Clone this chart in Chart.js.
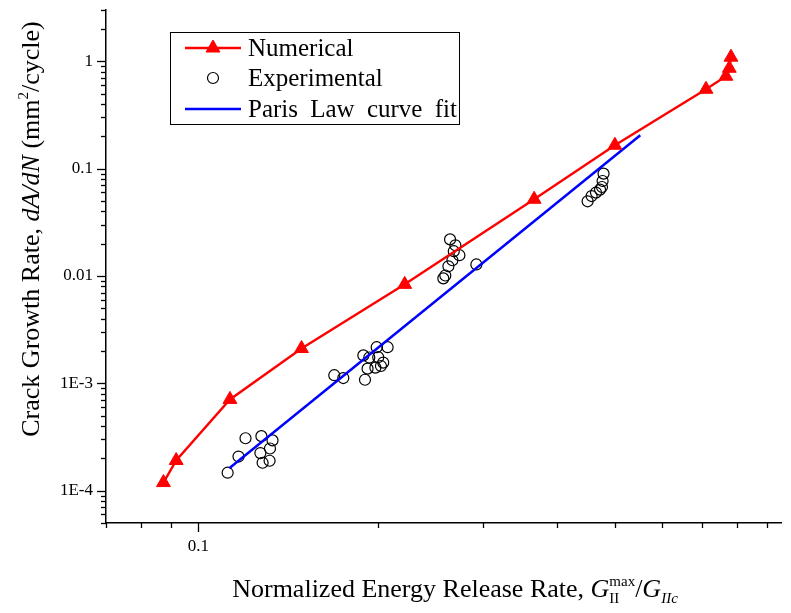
<!DOCTYPE html>
<html>
<head>
<meta charset="utf-8">
<script src="https://cdn.jsdelivr.net/npm/chart.js@4/dist/chart.umd.min.js"></script>
<style>
  html, body { margin: 0; padding: 0; background: #fff; }
  #wrap { width: 791px; height: 613px; }
</style>
</head>
<body>
<div id="wrap"><canvas id="crackChart" width="791" height="613"></canvas></div>
<script>
// datos
var xNumerical = [0.0874, 0.0918, 0.113, 0.149, 0.222, 0.366, 0.500, 0.711, 0.768, 0.778, 0.783];
var yNumerical = [1.19e-4, 1.91e-4, 7.08e-4, 2.11e-3, 8.35e-3, 0.0518, 0.165, 0.548, 0.725, 0.86, 1.09];

var xExperimental = [0.112, 0.1168, 0.120, 0.1276, 0.1332, 0.1319, 0.1271, 0.1282, 0.1317,
    0.1691, 0.1751, 0.1904, 0.1892, 0.1936, 0.1992, 0.2078, 0.2004, 0.2043, 0.1923, 0.1982, 0.2025,
    0.2645, 0.270, 0.2683, 0.2742, 0.2669, 0.2628, 0.2597, 0.2577, 0.2928,
    0.4786, 0.4768, 0.4757, 0.4721, 0.4648, 0.457, 0.450];
var yExperimental = [1.47e-4, 2.08e-4, 3.08e-4, 3.22e-4, 2.94e-4, 2.47e-4, 2.24e-4, 1.82e-4, 1.90e-4,
    1.19e-3, 1.12e-3, 1.08e-3, 1.82e-3, 1.74e-3, 2.17e-3, 2.17e-3, 1.75e-3, 1.56e-3, 1.37e-3, 1.40e-3, 1.45e-3,
    0.0219, 0.0193, 0.0170, 0.0156, 0.0140, 0.0123, 0.0101, 0.0095, 0.0128,
    0.0898, 0.0766, 0.0674, 0.0637, 0.0598, 0.0555, 0.0496];

var xParis = [0.1127, 0.5516];
var yParis = [1.62e-4, 0.204];

var xTickValues = [0.07, 0.08, 0.09, 0.1, 0.2, 0.3, 0.4, 0.5, 0.6, 0.7, 0.8, 0.9];
var xTickLabels = {0.1: '0.1'};
var yTickValues = [5e-5, 6e-5, 7e-5, 8e-5, 9e-5,
    1e-4, 2e-4, 3e-4, 4e-4, 5e-4, 6e-4, 7e-4, 8e-4, 9e-4,
    1e-3, 2e-3, 3e-3, 4e-3, 5e-3, 6e-3, 7e-3, 8e-3, 9e-3,
    0.01, 0.02, 0.03, 0.04, 0.05, 0.06, 0.07, 0.08, 0.09,
    0.1, 0.2, 0.3, 0.4, 0.5, 0.6, 0.7, 0.8, 0.9,
    1, 2, 3];
var yTickLabels = {1e-4: '1E-4', 1e-3: '1E-3', 0.01: '0.01', 0.1: '0.1', 1: '1'};

function puntos(xs, ys) {
    return xs.map(function (x, i) { return {x: x, y: ys[i]}; });
}

var serif = "'Liberation Serif', 'Times New Roman', serif";

// marcas de los ejes: largas en las decadas, cortas en el resto
var tickPlugin = {
    id: 'ticks',
    afterDraw: function (chart) {
        var ctx = chart.ctx, area = chart.chartArea;
        ctx.save();
        ctx.strokeStyle = '#000';
        ctx.lineWidth = 1.3;
        var xs = chart.scales.x;
        xs.ticks.forEach(function (t) {
            var px = Math.round(xs.getPixelForValue(t.value)) + 0.5;
            var len = xTickLabels[t.value] ? 9 : 5;
            ctx.beginPath();
            ctx.moveTo(px, area.bottom);
            ctx.lineTo(px, area.bottom + len);
            ctx.stroke();
        });
        var ys = chart.scales.y;
        ys.ticks.forEach(function (t) {
            var py = Math.round(ys.getPixelForValue(t.value)) + 0.5;
            var len = yTickLabels[t.value] ? 9 : 5;
            ctx.beginPath();
            ctx.moveTo(area.left - len, py);
            ctx.lineTo(area.left, py);
            ctx.stroke();
        });
        ctx.restore();
    }
};

// escribe una serie de trozos de texto con distintas fuentes
function trozos(ctx, partes, x, y) {
    var total = 0;
    partes.forEach(function (p) { ctx.font = p.font; if (!p.noAdvance) total += ctx.measureText(p.t).width; });
    var cx = x - total / 2;
    partes.forEach(function (p) {
        ctx.font = p.font;
        ctx.fillText(p.t, cx + (p.dx || 0), y + (p.dy || 0));
        if (!p.noAdvance) cx += ctx.measureText(p.t).width;
    });
}

var titlePlugin = {
    id: 'titulos',
    afterDraw: function (chart) {
        var ctx = chart.ctx;
        ctx.save();
        ctx.fillStyle = '#000';
        ctx.textBaseline = 'alphabetic';
        ctx.textAlign = 'left';
        var n = '26px ' + serif, it = 'italic 26px ' + serif, sm = '15px ' + serif, smi = 'italic 15px ' + serif;
        // eje x
        trozos(ctx, [
            {t: 'Normalized Energy Release Rate, ', font: n},
            {t: 'G', font: it},
            {t: 'II', font: sm, dy: 6, noAdvance: true},
            {t: 'max', font: sm, dy: -11},
            {t: '/', font: n},
            {t: 'G', font: it},
            {t: 'IIc', font: smi, dy: 6}
        ], 455, 597);
        // eje y
        ctx.translate(39, 229);
        ctx.rotate(-Math.PI / 2);
        trozos(ctx, [
            {t: 'Crack Growth Rate, ', font: n},
            {t: 'dA/dN', font: it},
            {t: ' (mm', font: n},
            {t: '2', font: sm, dy: -11},
            {t: '/cycle)', font: n}
        ], 0, 0);
        ctx.restore();
    }
};

var legendPlugin = {
    id: 'leyenda',
    afterDraw: function (chart) {
        var ctx = chart.ctx;
        ctx.save();
        ctx.strokeStyle = '#000';
        ctx.lineWidth = 1;
        ctx.fillStyle = '#fff';
        ctx.fillRect(170, 32, 289, 92);
        ctx.strokeRect(170.5, 32.5, 289, 92);
        var filas = [48, 78, 109];
        chart.data.datasets.forEach(function (ds, i) {
            var y = filas[i];
            if (ds.showLine) {
                ctx.strokeStyle = ds.borderColor;
                ctx.lineWidth = ds.borderWidth;
                ctx.beginPath();
                ctx.moveTo(185, y);
                ctx.lineTo(241, y);
                ctx.stroke();
            }
            if (ds.pointRadius > 0) {
                ctx.save();
                ctx.fillStyle = ds.pointBackgroundColor;
                ctx.strokeStyle = ds.pointBorderColor;
                ctx.lineWidth = ds.pointBorderWidth || 1;
                Chart.helpers.drawPoint(ctx, {
                    pointStyle: ds.pointStyle,
                    radius: ds.pointRadius,
                    borderWidth: ds.pointBorderWidth || 1
                }, 213, y);
                ctx.restore();
            }
            ctx.fillStyle = '#000';
            ctx.font = '25px ' + serif;
            ctx.wordSpacing = '6px';
            ctx.textBaseline = 'middle';
            ctx.fillText(ds.label, 248, y + 1);
        });
        ctx.restore();
    }
};

var ctxC = document.getElementById('crackChart').getContext('2d');
var grafico = new Chart(ctxC, {
    type: 'scatter',
    data: {
        datasets: [{
            label: 'Numerical',
            data: puntos(xNumerical, yNumerical),
            showLine: true,
            borderColor: '#ff0000',
            borderWidth: 2.4,
            pointStyle: 'triangle',
            pointRadius: 8,
            pointBackgroundColor: '#ff0000',
            pointBorderColor: '#ff0000',
            pointBorderWidth: 1,
            order: 1
        }, {
            label: 'Experimental',
            data: puntos(xExperimental, yExperimental),
            showLine: false,
            pointStyle: 'circle',
            pointRadius: 5.5,
            pointBackgroundColor: 'rgba(0,0,0,0)',
            pointBorderColor: '#000',
            pointBorderWidth: 1.2,
            order: 3
        }, {
            label: 'Paris Law curve fit',
            data: puntos(xParis, yParis),
            showLine: true,
            borderColor: '#0000ff',
            borderWidth: 2.5,
            pointRadius: 0,
            order: 2
        }]
    },
    options: {
        responsive: false,
        animation: false,
        events: [],
        layout: { padding: { top: 10, right: 10, left: 0, bottom: 0 } },
        plugins: { legend: { display: false }, tooltip: { enabled: false } },
        scales: {
            x: {
                type: 'logarithmic',
                min: 0.07,
                max: 0.95,
                afterBuildTicks: function (s) { s.ticks = xTickValues.map(function (v) { return {value: v}; }); },
                afterFit: function (s) { s.height = 90; s.paddingLeft = 0; s.paddingRight = 0; },
                grid: { display: true, drawOnChartArea: false, tickLength: 9, tickColor: 'rgba(0,0,0,0)' },
                border: { display: true, color: '#000', width: 1.5 },
                ticks: {
                    autoSkip: false, maxRotation: 0, padding: 4,
                    color: '#000', font: { family: serif, size: 17 },
                    callback: function (v) { return xTickLabels[v] || ''; }
                }
            },
            y: {
                type: 'logarithmic',
                min: 5e-5,
                max: 3,
                afterBuildTicks: function (s) { s.ticks = yTickValues.map(function (v) { return {value: v}; }); },
                afterFit: function (s) { s.width = 106; s.paddingTop = 0; s.paddingBottom = 0; },
                grid: { display: true, drawOnChartArea: false, tickLength: 9, tickColor: 'rgba(0,0,0,0)' },
                border: { display: true, color: '#000', width: 1.5 },
                ticks: {
                    autoSkip: false, padding: 4,
                    color: '#000', font: { family: serif, size: 17 },
                    callback: function (v) { return yTickLabels[v] || ''; }
                }
            }
        }
    },
    plugins: [tickPlugin, titlePlugin, legendPlugin]
});
</script>
</body>
</html>
